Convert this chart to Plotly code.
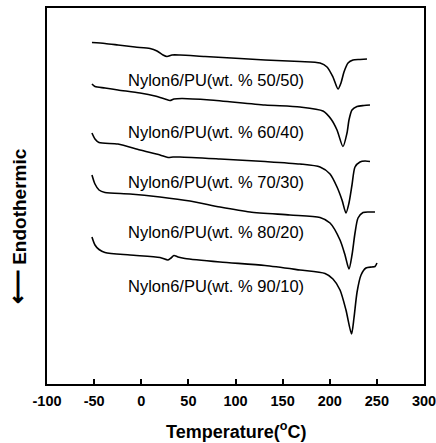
import plotly.graph_objects as go

# Temperatures (°C) and DSC signal (arbitrary units, curves stacked with offsets as drawn)
labels = ["Nylon6/PU(wt. % 50/50)", "Nylon6/PU(wt. % 60/40)", "Nylon6/PU(wt. % 70/30)",
          "Nylon6/PU(wt. % 80/20)", "Nylon6/PU(wt. % 90/10)"]

t_5050 = [-52.3, -38.5, -24.7, -6.6, 9.3, 16.7, 23.1, 27.3, 32.6, 41.1, 67.6, 104.8, 131.3, 168.4,
          189.7, 197.1, 203.4, 208.8, 211.9, 215.1, 219.4, 224.7, 232.1, 239.5]
y_5050 = [341.5, 340.5, 339, 337, 335.5, 333, 329, 327.5, 329, 329, 327.5, 325.5, 324, 322.5,
          321, 317, 307, 295, 301, 312, 321, 324, 324.5, 325]

t_6040 = [-52.3, -49.1, -38.5, -24.7, -1.3, 14.6, 25.2, 30.5, 34.7, 43.2, 72.9, 131.3, 168.4,
          192.8, 201.3, 207.7, 214.0, 218.3, 220.4, 223.6, 228.9, 236.3, 242.7]
y_6040 = [300, 297.5, 296, 294, 291, 288, 285, 283.5, 285, 285.5, 284, 279, 277,
          273, 265, 254, 237.5, 251, 264, 274, 277.5, 278.5, 279]

t_7030 = [-52.3, -49.1, -44.8, -24.7, -1.3, 19.9, 28.4, 33.7, 41.1, 83.6, 131.3, 168.4, 189.7,
          200.3, 207.7, 213.0, 217.2, 220.4, 223.6, 226.8, 232.1, 237.4, 242.7]
y_7030 = [251, 245, 241.5, 240, 234, 229, 226.5, 227, 227, 225, 222.5, 220, 217,
          210, 197, 184, 171, 181, 199, 217, 222, 223, 222.5]

t_8020 = [-52.3, -49.1, -44.8, -38.5, -11.9, 19.9, 51.7, 83.6, 115.4, 157.8, 189.7, 200.3,
          210.9, 216.2, 220.4, 223.6, 226.8, 230.0, 235.3, 241.6, 248.0]
y_8020 = [209, 200, 194, 191.5, 190, 187, 183, 177, 172, 169, 166.5, 161,
          144, 129, 115, 129, 151, 166, 171.5, 172, 172]

t_9010 = [-52.3, -49.1, -44.8, -38.5, -11.9, 19.9, 28.4, 31.6, 34.7, 39.0, 46.4, 83.6, 131.3,
          168.4, 195.0, 203.4, 210.9, 217.2, 223.1, 225.7, 229.0, 233.2, 238.4, 244.8, 248.0, 250.1]
y_9010 = [147, 139, 134.5, 131.5, 129, 126.5, 124, 126, 128.5, 127, 125.5, 122, 118.5,
          114, 110.5, 105, 94, 74, 50, 66, 92, 109, 116, 117, 117.5, 121]

series_t = [t_5050, t_6040, t_7030, t_8020, t_9010]
series_y = [y_5050, y_6040, y_7030, y_8020, y_9010]

x_ticks = [-100, -50, 0, 50, 100, 150, 200, 250, 300]
x_ticktext = ["-100", "-50", "0", "50", "100", "150", "200", "250", "300"]

# label placement (data coords)
label_x = [79, 79, 79, 79, 79]
label_y = [304, 252, 202, 152, 98]

FONT = "Liberation Sans, Arial, Helvetica, sans-serif"

fig = go.Figure()
for t, y, name in zip(series_t, series_y, labels):
    fig.add_trace(go.Scatter(x=t, y=y, mode="lines", name=name,
                             line=dict(color="black", width=1.6, shape="spline", smoothing=0.7),
                             showlegend=False, hoverinfo="skip"))

for lx, ly, txt in zip(label_x, label_y, labels):
    fig.add_annotation(x=lx, y=ly, text=txt, showarrow=False, xanchor="center", yanchor="middle",
                       font=dict(family=FONT, size=16.5, color="black"))

fig.add_annotation(xref="paper", yref="paper", x=0.5, y=0, yshift=-46, text="Temperature(<sup>o</sup>C)",
                   showarrow=False, xanchor="center", yanchor="middle",
                   font=dict(family=FONT, size=18, color="black", weight="bold"))
fig.add_annotation(xref="paper", yref="paper", x=0, xshift=-30, y=0.42,
                   text="<span style='font-size:24px'>⟵</span> Endothermic",
                   textangle=-90, showarrow=False, xanchor="center", yanchor="middle",
                   font=dict(family=FONT, size=19, color="black", weight="bold"))

fig.update_layout(
    width=436, height=443,
    margin=dict(l=47, r=12, t=8, b=59, autoexpand=False),
    paper_bgcolor="white", plot_bgcolor="white",
    xaxis=dict(range=[-100, 300], tickvals=x_ticks, ticktext=x_ticktext, ticks="inside", ticklen=5,
               tickwidth=1.5, tickcolor="black", showline=True, linewidth=1.5, linecolor="black",
               mirror=True, showgrid=False, zeroline=False, automargin=False,
               ticklabeloverflow="allow", ticklabelstandoff=3,
               tickfont=dict(family=FONT, size=14.5, color="black", weight="bold")),
    yaxis=dict(range=[0, 376], showticklabels=False, ticks="", showline=True, linewidth=1.5,
               linecolor="black", mirror=True, showgrid=False, zeroline=False, automargin=False),
)

fig.write_html("out.html", config={"displayModeBar": False},
               post_script="document.body.style.margin='0';document.body.style.overflow='hidden';")
